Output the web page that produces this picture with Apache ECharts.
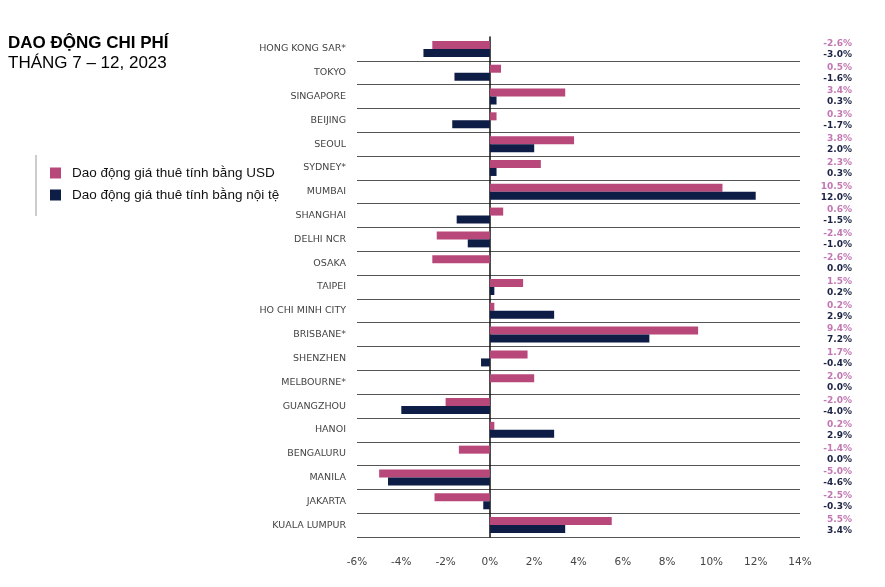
<!DOCTYPE html>
<html><head><meta charset="utf-8">
<script src="https://cdn.jsdelivr.net/npm/echarts@6/dist/echarts.min.js"></script>
<style>html,body{margin:0;padding:0;background:#fff}#c{width:885px;height:587px}</style>
</head><body><div id="c"></div>
<script>
const categories = ["HONG KONG SAR*","TOKYO","SINGAPORE","BEIJING","SEOUL","SYDNEY*","MUMBAI","SHANGHAI","DELHI NCR","OSAKA","TAIPEI","HO CHI MINH CITY","BRISBANE*","SHENZHEN","MELBOURNE*","GUANGZHOU","HANOI","BENGALURU","MANILA","JAKARTA","KUALA LUMPUR"];
const usdChange = [-2.6,0.5,3.4,0.3,3.8,2.3,10.5,0.6,-2.4,-2.6,1.5,0.2,9.4,1.7,2.0,-2.0,0.2,-1.4,-5.0,-2.5,5.5];
const localChange = [-3.0,-1.6,0.3,-1.7,2.0,0.3,12.0,-1.5,-1.0,0.0,0.2,2.9,7.2,-0.4,0.0,-4.0,2.9,0.0,-4.6,-0.3,3.4];
const xMin = -6, xMax = 14, xStep = 2;
const seriesNames = ["Dao động giá thuê tính bằng USD","Dao động giá thuê tính bằng nội tệ"];

const fmt = v => v.toFixed(1) + '%';
const chart = echarts.init(document.getElementById('c'));
chart.setOption({
  animation:false,
  title:{
    text:'DAO ĐỘNG CHI PHÍ', subtext:'THÁNG 7 – 12, 2023', left:8, top:35, itemGap:3, padding:0,
    textStyle:{fontFamily:'Liberation Sans, Arial',fontSize:17,fontWeight:'bold',color:'#000'},
    subtextStyle:{fontFamily:'Liberation Sans, Arial',fontSize:17,color:'#000'}
  },
  legend:{
    orient:'vertical', left:45, top:161, itemWidth:11, itemHeight:11, itemGap:8, icon:'rect',
    textStyle:{fontFamily:'Liberation Sans, Arial',fontSize:13.5,color:'#111',padding:[0,0,0,6]},
    data:seriesNames
  },
  graphic:[{type:'line',shape:{x1:36,y1:155,x2:36,y2:216},style:{stroke:'#999',lineWidth:1}}],
  grid:{left:357,right:85,top:37,bottom:50},
  xAxis:{type:'value',min:xMin,max:xMax,interval:xStep,
    axisLine:{show:false},axisTick:{show:false},splitLine:{show:false},
    axisLabel:{formatter:'{value}%',margin:20,fontFamily:'DejaVu Sans',fontSize:10.5,color:'#444'}},
  yAxis:[{type:'category',data:categories,inverse:true,
    axisLine:{show:true,onZero:true,lineStyle:{color:'#111',width:1.5}},
    axisTick:{show:false},
    splitLine:{show:true,interval:(i)=>i!==0,lineStyle:{color:'#555',width:1}},
    axisLabel:{margin:11,fontFamily:'DejaVu Sans',fontSize:9.5,color:'#444'}},
   {type:'category',data:categories,inverse:true,position:'right',
    axisLine:{show:false},axisTick:{show:false},splitLine:{show:false},
    axisLabel:{margin:52,align:'right',lineHeight:11,
      formatter:(v,i)=>'{a|'+fmt(usdChange[i])+'}\n{b|'+fmt(localChange[i])+'}',
      rich:{a:{fontFamily:'DejaVu Sans',fontSize:9,fontWeight:'bold',color:'#c277b3',align:'right'},
            b:{fontFamily:'DejaVu Sans',fontSize:9,fontWeight:'bold',color:'#1c2244',align:'right'}}}}],
  series:[
    {name:seriesNames[0],type:'bar',data:usdChange,barWidth:8,barGap:'0%',itemStyle:{color:'#b8477a'}},
    {name:seriesNames[1],type:'bar',data:localChange,barWidth:8,barGap:'0%',itemStyle:{color:'#0e1d45'}}
  ]
});
</script></body></html>
